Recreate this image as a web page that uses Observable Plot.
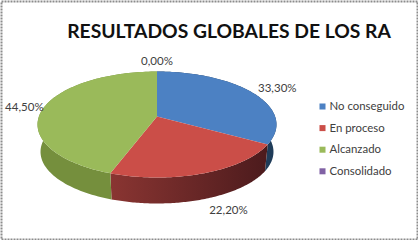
<!DOCTYPE html>
<html><head><meta charset="utf-8">
<script src="https://cdn.jsdelivr.net/npm/d3@7"></script>
<script src="https://cdn.jsdelivr.net/npm/@observablehq/plot@0.6"></script>
<style>html,body{margin:0;padding:0;background:#fff}svg{display:block}</style>
</head><body><div id="chart"></div>
<script>
const categories = ["No conseguido","En proceso","Alcanzado","Consolidado"];
const values = [33.3,22.2,44.5,0];
const valueLabels = ["33,30%","22,20%","44,50%","0,00%"];
const topColors = ["url(#dBlue)","url(#dRed)","url(#dGreen)","url(#dPurple)"];
const sideColors = ["url(#dNavy)","url(#redSide)","url(#dOlive)","#5a4478"];
const titleText = "RESULTADOS GLOBALES DE LOS RA";
const dithers = [["dBlue","#3a72c6","#5f8fc0"],["dRed","#d63f3f","#c05c50"],["dGreen","#8cc04c","#a8b468"],
  ["dPurple","#7550a8","#8a72a0"],["dNavy","#12283f","#2c4f73"],["dOlive","#6a9030","#7f8d4a"]];

const W=418,H=240, cx=156.5, cy=116, rx=118.1, ry=51.8, k=0.151, depth=27.5, shrink=0.975;
const rim=(deg,r=1,bottom=false)=>{
  const t=deg*Math.PI/180,u=r*Math.sin(t),v=-r*Math.cos(t),d=1-k*v,s=bottom?shrink:1;
  return {px:cx+s*rx*u/d, py:cy+(bottom?depth:0)+s*ry*v/d};
};
let cum=0;
const slices=categories.map((c,i)=>{const a0=cum/100*360;cum+=values[i];return {c,i,a0,a1:cum/100*360};});
const arc=(s,r,bottom)=>d3.range(0,101).map(j=>rim(s.a0+(s.a1-s.a0)*j/100,r,bottom));
const topPts=slices.flatMap(s=>[{...rim(0,0),i:s.i},...arc(s,1,false).map(p=>({...p,i:s.i}))]);
const sidePts=slices.flatMap(s=>[...arc(s,1,false),...arc(s,1,true).reverse()].map(p=>({...p,i:s.i})));

const labelOffset=[{dx:6,dy:-4,a:"start"},{dx:24,dy:37,a:"middle"},{dx:0,dy:-1,a:"end"},{dx:0,dy:-10,a:"middle"}];
const labels=slices.map(s=>{const p=rim((s.a0+s.a1)/2);const o=labelOffset[s.i];
  return {px:p.px+o.dx,py:p.py+o.dy,t:valueLabels[s.i],a:o.a};});
const legend=categories.map((c,i)=>({c,i,px:322,py:106+i*21.6}));

const defs=()=>{const svg=d3.create("svg:defs");
  for(const [id,a,b] of dithers){
    const p=svg.append("pattern").attr("id",id).attr("width",2).attr("height",2).attr("patternUnits","userSpaceOnUse");
    p.append("rect").attr("width",2).attr("height",2).attr("fill",a);
    p.append("rect").attr("width",1).attr("height",1).attr("fill",b);
    p.append("rect").attr("x",1).attr("y",1).attr("width",1).attr("height",1).attr("fill",b);
  }
  const g=svg.append("linearGradient").attr("id","redSide").attr("gradientUnits","userSpaceOnUse")
    .attr("x1",109).attr("x2",272).attr("y1",0).attr("y2",0);
  g.append("stop").attr("offset",0).attr("stop-color","#8a3532");
  g.append("stop").attr("offset",1).attr("stop-color","#4a1a1c");
  return svg.node();};

const plot=Plot.plot({width:W,height:H,margin:0,
  x:{domain:[0,W],range:[0,W],axis:null},y:{domain:[0,H],range:[0,H],axis:null},
  style:{background:"#fff"},
  marks:[
    defs,
    Plot.frame({stroke:"#8c8c8c",strokeDasharray:"2,1",strokeWidth:2,inset:1}),
    ...slices.map(s=>Plot.line(sidePts.filter(p=>p.i===s.i),{x:"px",y:"py",fill:sideColors[s.i],stroke:"none"})),
    ...slices.map(s=>Plot.line(topPts.filter(p=>p.i===s.i),{x:"px",y:"py",fill:topColors[s.i],stroke:"none"})),
    Plot.text([titleText],{x:()=>228.5,y:()=>31,text:d=>d,fontFamily:"Lato",fontWeight:"bold",fontSize:19.3,fill:"#111",textAnchor:"middle"}),
    ...labels.map(l=>Plot.text([l],{x:"px",y:"py",text:"t",textAnchor:l.a,fontFamily:"Lato",fontSize:11.5,fill:"#404040"})),
    Plot.dot(legend,{x:"px",y:"py",symbol:"square",r:3.4,fill:(d)=>topColors[d.i]}),
    Plot.text(legend,{x:()=>329,y:"py",text:"c",textAnchor:"start",fontFamily:"Lato",fontSize:11.4,fill:"#404040"})
  ]});
document.getElementById("chart").append(plot);
</script></body></html>
